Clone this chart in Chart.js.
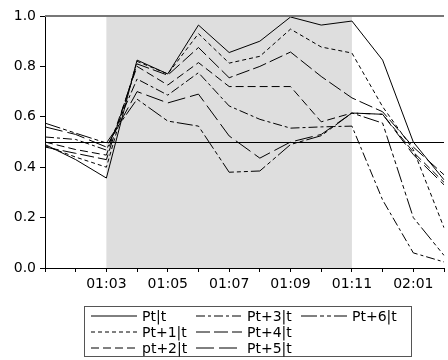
<!DOCTYPE html>
<html>
<head>
<meta charset="utf-8">
<script src="https://cdn.jsdelivr.net/npm/chart.js@4/dist/chart.umd.min.js"></script>
<style>
  html, body { margin: 0; padding: 0; background: #fff; }
  #wrap { position: relative; width: 448px; height: 360px; }
  #box { position: absolute; left: 0; top: 0; width: 448px; height: 300px; }
  #legend {
    position: absolute; left: 84px; top: 306px; width: 328px; height: 51px;
    border: 1px solid #555; box-sizing: border-box; background: #fff;
    display: grid; grid-auto-flow: column;
    grid-template-rows: repeat(3, 16px); grid-template-columns: repeat(3, 105px);
    padding: 1px 0 0 6px;
    font-family: "DejaVu Sans", sans-serif; font-size: 14px; color: #000;
    filter: grayscale(100%);
  }
  #legend div { display: flex; align-items: center; white-space: nowrap; line-height: 16px; }
  #legend svg { margin-right: 5px; }
</style>
</head>
<body>
<div id="wrap">
  <div id="box"><canvas id="chart"></canvas></div>
  <div id="legend"></div>
</div>
<script>
const months = ['01:01', '01:02', '01:03', '01:04', '01:05', '01:06', '01:07',
  '01:08', '01:09', '01:10', '01:11', '01:12', '02:01', '02:02'];

const pt0 = [0.49, 0.43, 0.357, 0.825, 0.77, 0.964, 0.855, 0.90, 0.996, 0.964, 0.98, 0.825, 0.50, 0.35];
const pt1 = [0.485, 0.44, 0.40, 0.82, 0.77, 0.93, 0.813, 0.84, 0.948, 0.877, 0.853, 0.64, 0.47, 0.16];
const pt2 = [0.50, 0.47, 0.448, 0.80, 0.726, 0.815, 0.72, 0.72, 0.72, 0.58, 0.615, 0.61, 0.46, 0.34];
const pt3 = [0.52, 0.51, 0.468, 0.75, 0.686, 0.775, 0.643, 0.59, 0.555, 0.56, 0.563, 0.27, 0.06, 0.024];
const pt4 = [0.48, 0.455, 0.43, 0.81, 0.765, 0.875, 0.755, 0.80, 0.857, 0.76, 0.675, 0.62, 0.48, 0.37];
const pt5 = [0.56, 0.53, 0.48, 0.70, 0.655, 0.69, 0.524, 0.436, 0.50, 0.53, 0.615, 0.61, 0.45, 0.33];
const pt6 = [0.575, 0.535, 0.496, 0.67, 0.583, 0.563, 0.38, 0.385, 0.49, 0.525, 0.615, 0.575, 0.2, 0.05];

const seriesNames = ['Pt|t', 'Pt+1|t', 'pt+2|t', 'Pt+3|t', 'Pt+4|t', 'Pt+5|t', 'Pt+6|t'];
const seriesData = [pt0, pt1, pt2, pt3, pt4, pt5, pt6];
const dashes = [[], [4, 3], [8, 4], [9, 3, 3, 3], [14, 4], [18, 5], [16, 3, 4, 3, 4, 3]];

const shadeFrom = '01:03';
const shadeTo = '01:11';
const refLevel = 0.5;
const yTicks = [0, 0.2, 0.4, 0.6, 0.8, 1.0];

Chart.defaults.font.family = '"DejaVu Sans", sans-serif';
Chart.defaults.font.size = 14;
Chart.defaults.color = '#000';

const decor = {
  id: 'decor',
  beforeDatasetsDraw(chart) {
    const { ctx, chartArea: a, scales: { x } } = chart;
    const x0 = x.getPixelForValue(months.indexOf(shadeFrom));
    const x1 = x.getPixelForValue(months.indexOf(shadeTo));
    ctx.save();
    ctx.fillStyle = '#dedede';
    ctx.fillRect(x0, a.top, x1 - x0, a.bottom - a.top);
    ctx.restore();
  },
  afterDatasetsDraw(chart) {
    const { ctx, chartArea: a, scales: { y } } = chart;
    const yy = Math.round(y.getPixelForValue(refLevel)) + 0.5;
    ctx.save();
    ctx.strokeStyle = '#000';
    ctx.lineWidth = 1;
    ctx.beginPath();
    ctx.moveTo(a.left, yy);
    ctx.lineTo(a.right, yy);
    ctx.stroke();
    ctx.strokeStyle = '#777';
    ctx.lineWidth = 2;
    ctx.beginPath();
    ctx.moveTo(a.left, a.top);
    ctx.lineTo(a.right, a.top);
    ctx.stroke();
    ctx.restore();
  }
};

new Chart(document.getElementById('chart'), {
  type: 'line',
  data: {
    labels: months,
    datasets: seriesData.map((d, i) => ({
      label: seriesNames[i],
      data: d,
      borderColor: '#000',
      borderWidth: 1,
      borderDash: dashes[i],
      pointRadius: 0,
      tension: 0,
      fill: false,
    })),
  },
  options: {
    responsive: true,
    maintainAspectRatio: false,
    animation: false,
    layout: { padding: { top: 16, right: 0, left: 0, bottom: 0 } },
    plugins: { legend: { display: false }, tooltip: { enabled: false } },
    scales: {
      x: {
        offset: false,
        border: { color: '#000', width: 1 },
        grid: { drawOnChartArea: false, drawTicks: true, tickLength: 4, color: '#000' },
        ticks: {
          autoSkip: false, maxRotation: 0, padding: 4,
          callback(v, i) { return (i % 2 === 0 && i > 0) ? this.getLabelForValue(v) : ''; },
        },
        afterFit(s) { s.height = 32; },
      },
      y: {
        min: 0, max: 1,
        afterBuildTicks(s) { s.ticks = yTicks.map(v => ({ value: v })); },
        border: { color: '#000', width: 1 },
        grid: { drawOnChartArea: false, drawTicks: true, tickLength: 5, color: '#000' },
        ticks: { padding: 4, callback: v => v.toFixed(1) },
        afterFit(s) { s.width = 45; },
      },
    },
  },
  plugins: [decor],
});

// legend, column by column like the original
const leg = document.getElementById('legend');
seriesNames.forEach((name, i) => {
  const row = document.createElement('div');
  const dash = dashes[i].length ? dashes[i].join(' ') : 'none';
  row.innerHTML = '<svg width="46" height="6"><line x1="0" y1="3" x2="46" y2="3" stroke="#000" stroke-width="1" stroke-dasharray="' + dash + '"/></svg><span>' + name + '</span>';
  leg.appendChild(row);
});
</script>
</body>
</html>
